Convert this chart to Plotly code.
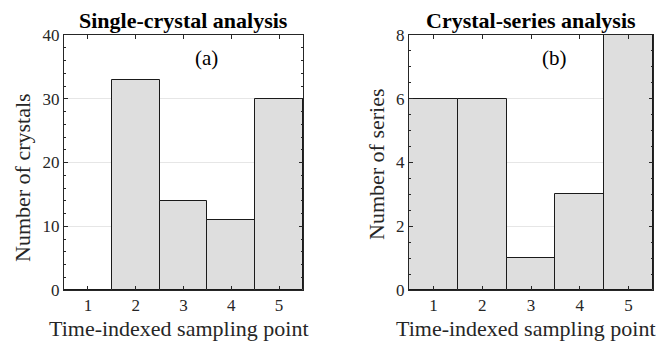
import plotly.graph_objects as go

# Sampling points and counts per panel
sampling_points = [1, 2, 3, 4, 5]
crystal_counts = [0, 33, 14, 11, 30]
series_counts = [6, 6, 1, 3, 8]

panel_titles = ["Single-crystal analysis", "Crystal-series analysis"]
panel_tags = ["(a)", "(b)"]
y_titles = ["Number of crystals", "Number of series"]
x_title = "Time-indexed sampling point"

FONT = "Liberation Serif, Times New Roman, serif"
INK = "#262626"
BAR_FILL = "#dedede"
GRID = "#e6e6e6"
W, H = 658, 342

fig = go.Figure()

fig.add_trace(go.Bar(x=sampling_points, y=crystal_counts, width=1,
                     marker=dict(color=BAR_FILL, line=dict(color="#1a1a1a", width=1)),
                     xaxis="x", yaxis="y", showlegend=False))
fig.add_trace(go.Bar(x=sampling_points, y=series_counts, width=1,
                     marker=dict(color=BAR_FILL, line=dict(color="#1a1a1a", width=1)),
                     xaxis="x2", yaxis="y2", showlegend=False))

ydom = [1 - 290 / H, 1 - 35 / H]
xdom1 = [64 / W, 303 / W]
xdom2 = [409 / W, 653 / W]

def xaxis_style(domain, anchor):
    return dict(domain=domain, anchor=anchor, range=[0.5, 5.5], automargin=False,
                tickvals=sampling_points, ticks="inside", ticklen=4,
                tickcolor=INK, showline=True, linecolor=INK,
                linewidth=1, mirror="allticks", showgrid=False, zeroline=False,
                tickfont=dict(family=FONT, size=17, color=INK))

def yaxis_style(domain, anchor, rng, dtick, minor_dtick):
    return dict(domain=domain, anchor=anchor, range=rng, dtick=dtick,
                automargin=False,
                ticks="inside", ticklen=4, tickcolor=INK,
                showline=True, linecolor=INK, linewidth=1,
                mirror="allticks", showgrid=True, gridcolor=GRID, gridwidth=1,
                zeroline=False,
                minor=dict(dtick=minor_dtick, ticks="inside", ticklen=2,
                           tickcolor=INK, showgrid=False),
                tickfont=dict(family=FONT, size=17, color=INK))

fig.update_layout(
    width=W, height=H,
    margin=dict(l=0, r=0, t=0, b=0),
    paper_bgcolor="white", plot_bgcolor="white",
    bargap=0,
    xaxis=xaxis_style(xdom1, "y"),
    yaxis=yaxis_style(ydom, "x", [0, 40], 10, 2),
    xaxis2=xaxis_style(xdom2, "y2"),
    yaxis2=yaxis_style(ydom, "x2", [0, 8], 2, 0.5),
)

def px(xp, yp):
    return dict(xref="paper", yref="paper", x=xp / W, y=1 - yp / H,
                xanchor="center", yanchor="middle", showarrow=False)

annotations = []
# panel titles
for dom, title in zip([xdom1, xdom2], panel_titles):
    a = px((dom[0] + dom[1]) / 2 * W, 20)
    a.update(text="<b>%s</b>" % title, font=dict(family=FONT, size=22, color="black"))
    annotations.append(a)
# x-axis titles
for xc in (179, 526):
    a = px(xc, 328)
    a.update(text=x_title, font=dict(family=FONT, size=22, color=INK))
    annotations.append(a)
# y-axis titles
for (xc, yc), title in zip([(22, 178), (376, 164)], y_titles):
    a = px(xc, yc)
    a.update(text=title, textangle=-90, font=dict(family=FONT, size=22, color=INK))
    annotations.append(a)
# panel tags
annotations.append(dict(text=panel_tags[0], xref="x", yref="y", x=3.49, y=36.4,
                        showarrow=False, font=dict(family=FONT, size=21, color="black")))
annotations.append(dict(text=panel_tags[1], xref="x2", yref="y2", x=3.49, y=7.28,
                        showarrow=False, font=dict(family=FONT, size=21, color="black")))
fig.update_layout(annotations=annotations)

fig.write_html("out.html")
